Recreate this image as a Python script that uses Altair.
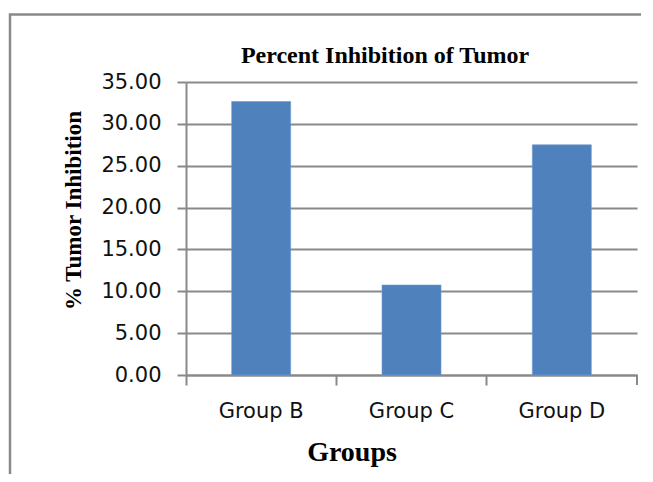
import altair as alt
import pandas as pd

groups = ["Group B", "Group C", "Group D"]
inhibition = [32.67, 10.75, 27.5]
chart_title = "Percent Inhibition of Tumor"

df = pd.DataFrame({"group": groups, "value": inhibition})

W, H = 451, 293
GRID = "#898989"

frame = alt.Chart(alt.Data(values=[{"k": 1}])).mark_rect(
    fill=None, stroke="#8a8a8a", strokeWidth=2.5
).encode(
    x=alt.value(-176), x2=alt.value(W + 100),
    y=alt.value(-67.5), y2=alt.value(H + 150),
)

title_text = alt.Chart(alt.Data(values=[{"t": chart_title}])).mark_text(
    font="Liberation Serif", fontSize=24, fontWeight="bold", color="#000",
    align="center", baseline="alphabetic"
).encode(
    text="t:N", x=alt.value(199), y=alt.value(-19)
)

bars = alt.Chart(df).mark_bar(color="#4F81BD", size=59, stroke="#6f9ad0", strokeWidth=0.6).encode(
    x=alt.X("group:N", sort=groups,
            scale=alt.Scale(paddingInner=0, paddingOuter=0),
            axis=alt.Axis(title="Groups", labelAngle=0, bandPosition=0,
                          labelFont="DejaVu Sans", labelFontSize=21, labelColor="#111",
                          labelBaseline="alphabetic", labelPadding=32,
                          tickSize=10, tickColor=GRID, tickWidth=2,
                          domainColor=GRID, domainWidth=2,
                          titleFont="Liberation Serif", titleFontSize=28, titleFontWeight="bold",
                          titleColor="#000", titleX=165.5, titleY=85,
                          titleBaseline="alphabetic", titleAlign="center")),
    y=alt.Y("value:Q",
            scale=alt.Scale(domain=[0, 35], nice=False),
            axis=alt.Axis(title="% Tumor Inhibition", values=[0, 5, 10, 15, 20, 25, 30, 35],
                          format=".2f",
                          labelFont="DejaVu Sans", labelFontSize=21, labelColor="#111",
                          labelPadding=16,
                          tickSize=9, tickColor=GRID, tickWidth=2,
                          domainColor=GRID, domainWidth=2,
                          grid=True, gridColor=GRID, gridWidth=2,
                          titleFont="Liberation Serif", titleFontSize=23, titleFontWeight="bold",
                          titleColor="#000", titleX=-106, titleY=128, titleAngle=270,
                          titleBaseline="alphabetic", titleAlign="center")),
)

end_tick = alt.Chart(alt.Data(values=[{"k": 1}])).mark_rule(color=GRID, strokeWidth=2).encode(
    x=alt.value(W), y=alt.value(H), y2=alt.value(H + 10)
)

chart = alt.layer(frame, bars, end_tick, title_text).properties(
    width=W, height=H,
    autosize=alt.AutoSizeParams(type="none"),
    padding={"left": 178, "top": 74, "right": 4, "bottom": 99},
).configure_view(strokeWidth=0)

chart.save("out.html", embed_options={"renderer": "svg", "actions": False})
